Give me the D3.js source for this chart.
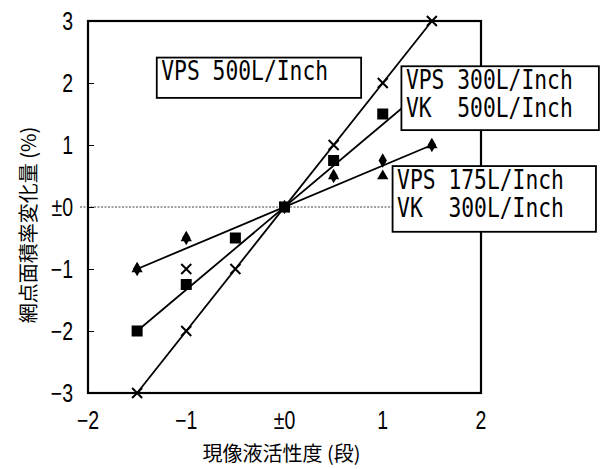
<!DOCTYPE html>
<html><head><meta charset="utf-8">
<script src="https://cdn.jsdelivr.net/npm/d3@7"></script>
<style>body{margin:0;background:#fff}</style>
</head><body>
<svg id="c" width="600" height="469"></svg>
<script>
// ---- data ----
const xTicks = [-2, -1, 0, 1, 2];
const yTicks = [-3, -2, -1, 0, 1, 2, 3];
const xTickLabels = ["−2", "−1", "±0", "1", "2"];
const yTickLabels = ["−3", "−2", "−1", "±0", "1", "2", "3"];
const xTitle = "現像液活性度 (段)";
const yTitle = "網点面積率変化量 (%)";

// VPS 500L/Inch (crosses)
const vps500 = [[-1.5,-3],[-1,-2],[-0.5,-1],[0,0],[0.5,1],[1,2],[1.5,3]];
// VK 500L/Inch (cross, off-line)
const vk500 = [[-1,-1]];
// VPS 300L/Inch (squares)
const vps300 = [[-1.5,-2],[-1,-1.25],[-0.5,-0.5],[0,0],[0.5,0.75],[1,1.5]];
// VPS 175L/Inch (triangles)
const vps175 = [[-1.5,-1],[-1,-0.5],[0,0],[0.5,0.5],[1,0.5],[1.5,1]];
// VK 300L/Inch (diamonds / dots)
const vk300 = [[-1.5,-1],[-1,-0.5],[0,0],[0.5,0.5],[1,0.75],[1.5,1]];

// fitted lines (data units)
const fitSteep = [[-1.5,-3],[1.5,3]];
const fitMid = [[-1.5,-2],[1.3,1.733]];
const fitLow = [[-1.5,-1],[1.5,1]];

const boxes = [
  {lines:["VPS 500L/Inch"], x0:-1.3, y0:2.41, x1:0.78, y1:1.76},
  {lines:["VPS 300L/Inch","VK  500L/Inch"], x0:1.19, y0:2.27, x1:3.2, y1:1.24},
  {lines:["VPS 175L/Inch","VK  300L/Inch"], x0:1.10, y0:0.66, x1:3.17, y1:-0.40}
];

// ---- layout ----
const svg = d3.select("#c");
const L = 88, R = 481, T = 21, B = 393;
const x = d3.scaleLinear().domain([-2, 2]).range([L, R]);
const y = d3.scaleLinear().domain([-3, 3]).range([B, T]);

const tickFont = "'Liberation Sans',Arial,sans-serif";

// zero dotted line
svg.append("line").attr("x1", x(-2)-8).attr("x2", x(1.1)).attr("y1", y(0)).attr("y2", y(0))
  .attr("stroke", "#444").attr("stroke-width", 1).attr("stroke-dasharray", "2,1.5");

// y axis ticks (inside)
const yAxis = d3.axisRight(y).tickValues(yTicks).tickSize(6).tickFormat("");
const gy = svg.append("g").attr("transform", `translate(${L},0)`).call(yAxis);
gy.select(".domain").remove();
gy.selectAll("line").attr("stroke", "#000").attr("stroke-width", 1);

// y tick labels (condensed)
svg.append("g").selectAll("text").data(yTicks).join("text")
  .attr("transform", d => `translate(73,${y(d) + 9}) scale(0.78,1)`)
  .attr("text-anchor", "end").attr("font-family", tickFont).attr("font-size", 25)
  .text((d, i) => yTickLabels[i]);

// x tick labels
svg.append("g").selectAll("text").data(xTicks).join("text")
  .attr("transform", d => `translate(${x(d)},429) scale(0.78,1)`)
  .attr("text-anchor", "middle").attr("font-family", tickFont).attr("font-size", 25)
  .text((d, i) => xTickLabels[i]);

// frame
svg.append("rect").attr("x", L).attr("y", T).attr("width", R - L).attr("height", B - T)
  .attr("fill", "none").attr("stroke", "#000").attr("stroke-width", 2.2);

// titles
svg.append("text").attr("x", (L + R) / 2 - 3).attr("y", 461).attr("text-anchor", "middle")
  .attr("font-family", "'Noto Sans CJK JP',sans-serif").attr("font-size", 20).attr("fill", "#000").text(xTitle);
svg.append("text").attr("transform", `translate(36,${225}) rotate(-90)`).attr("text-anchor", "middle")
  .attr("font-family", "'Noto Sans CJK JP',sans-serif").attr("font-size", 20).attr("fill", "#000").text(yTitle);

// lines
const line = d3.line().x(d => x(d[0])).y(d => y(d[1]));
[fitSteep, fitMid, fitLow].forEach(f => {
  svg.append("path").attr("d", line(f)).attr("fill", "none").attr("stroke", "#000").attr("stroke-width", 1.8);
});

// markers
function cross(data, s) {
  svg.append("g").selectAll("path").data(data).join("path")
    .attr("d", d => `M${x(d[0])-s},${y(d[1])-s}L${x(d[0])+s},${y(d[1])+s}M${x(d[0])-s},${y(d[1])+s}L${x(d[0])+s},${y(d[1])-s}`)
    .attr("stroke", "#000").attr("stroke-width", 2).attr("fill", "none");
}
cross(vps500, 5);
cross(vk500, 5);
svg.append("g").selectAll("path").data(vk300).join("path")
  .attr("transform", d => `translate(${x(d[0])},${y(d[1])})`)
  .attr("d", d3.symbol(d3.symbolDiamond, 60)).attr("fill", "#000");
svg.append("g").selectAll("path").data(vps175).join("path")
  .attr("transform", d => `translate(${x(d[0])},${y(d[1])})`)
  .attr("d", d3.symbol(d3.symbolTriangle, 55)).attr("fill", "#000");
svg.append("g").selectAll("rect").data(vps300).join("rect")
  .attr("x", d => x(d[0]) - 5.5).attr("y", d => y(d[1]) - 5.5).attr("width", 11).attr("height", 11)
  .attr("fill", "#000");

// label boxes
const boxFont = "'DejaVu Sans Mono','Liberation Mono',monospace";
boxes.forEach(b => {
  const bx = x(b.x0), by = y(b.y0), bw = x(b.x1) - x(b.x0), bh = y(b.y1) - y(b.y0);
  svg.append("rect").attr("x", bx).attr("y", by).attr("width", bw).attr("height", bh)
    .attr("fill", "#fff").attr("stroke", "#000").attr("stroke-width", 1.8);
  b.lines.forEach((t, i) => {
    svg.append("text").attr("transform", `translate(${bx + 4.5},${by + 22.5 + i * 28.5}) scale(0.82,1)`)
      .attr("font-family", boxFont).attr("font-size", 26)
      .style("white-space", "pre").text(t);
  });
});
</script>
</body></html>
